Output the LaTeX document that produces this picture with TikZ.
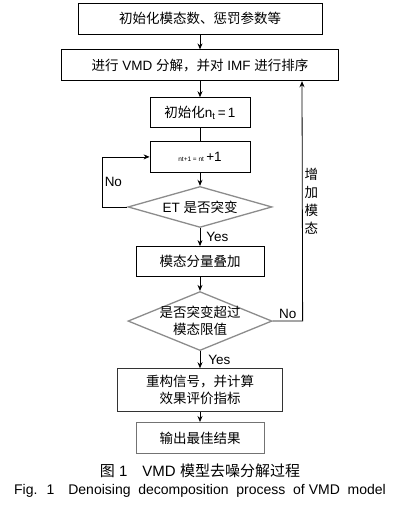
\documentclass[tikz,border=0pt]{standalone}
\usepackage{fontspec}
\setmainfont{Liberation Sans}
\newfontfamily\zhfont{Noto Sans CJK SC}
\newcommand{\zh}[1]{{\zhfont #1}}
\usetikzlibrary{shapes.geometric, arrows.meta, positioning}

\begin{document}
\begin{tikzpicture}[
  node distance=15pt,
  font=\fontsize{13.5}{17}\selectfont,
  process/.style={rectangle, draw=black, line width=0.8pt, align=center, inner sep=2pt},
  decision/.style={diamond, draw=black!45, line width=1.3pt, inner sep=0pt, minimum width=144pt, minimum height=41pt},
  arrow/.style={-{Stealth[length=6pt,width=5pt]}, line width=0.8pt},
  lbl/.style={inner sep=2pt}
]

\useasboundingbox (0pt,0pt) rectangle (403pt,-512pt);

% Nodes
\node[process, minimum width=244pt, minimum height=31pt] (init) at (200pt,-18.5pt) {\zh{初始化模态数、惩罚参数等}};
\node[process, below=15pt of init, minimum width=277pt, minimum height=31pt] (vmd) {\zh{进行} VMD \zh{分解，并对} IMF \zh{进行排序}};
\node[process, below=16pt of vmd, minimum width=100pt, minimum height=30pt] (ntinit) {\zh{初始化}n\textsubscript{t}\,=\,1};
\node[process, below=13pt of ntinit, minimum width=100pt, minimum height=31pt] (ntadd) {\raisebox{-4pt}{{\fontsize{6.5}{7}\selectfont nt+1 = nt}\,+1}};
\node[decision, below=13pt of ntadd, label=center:{ET \zh{是否突变}}] (etjump) {};
\node[process, below=18pt of etjump, minimum width=128pt, minimum height=30pt] (modesum) {\zh{模态分量叠加}};
\node[decision, below=14pt of modesum, minimum height=59pt, label={[align=center]center:{\zh{是否突变超过}\\\zh{模态限值}}}] (overlim) {};
\node[process, below=17pt of overlim, minimum width=165pt, minimum height=43pt, draw=black!80] (rebuild) {\zh{重构信号，并计算}\\\zh{效果评价指标}};
\node[process, below=10pt of rebuild, minimum width=128pt, minimum height=31pt, draw=black!55] (result) {\zh{输出最佳结果}};

% Caption
\node[below=7pt of result, font=\fontsize{15}{18}\selectfont] (capzh) {\zh{图} 1\quad VMD \zh{模型去噪分解过程}};
\node[below=-1pt of capzh, font=\fontsize{14}{16}\selectfont] (capen) {Fig.~ 1\quad Denoising~ decomposition~ process~ of VMD~ model};

% Arrows
\draw[arrow] (init) -- (vmd);
\draw[arrow] (vmd) -- (ntinit);
\draw[line width=0.8pt] (ntinit) -- (ntadd);
\draw[arrow] (ntadd) -- (etjump);
\draw[arrow] (etjump.west) -- ++(-25pt,0) |- (ntadd.west) node[lbl, pos=0.25, right] {No};
\draw[arrow] (etjump) -- (modesum) node[lbl, midway, right, xshift=4pt] {Yes};
\draw[arrow] (modesum) -- (overlim);
\draw[arrow] (overlim.east) -- ++(30pt,0) node[lbl, midway, above] {No}
  -- ([xshift=102pt]vmd.south) node[lbl, midway, right, align=center, font=\fontsize{13.5}{18}\selectfont] {\zh{增}\\\zh{加}\\\zh{模}\\\zh{态}};
\draw[arrow] (overlim) -- (rebuild) node[lbl, midway, right, xshift=6pt] {Yes};
\draw[arrow] (rebuild) -- (result);

\end{tikzpicture}
\end{document}
